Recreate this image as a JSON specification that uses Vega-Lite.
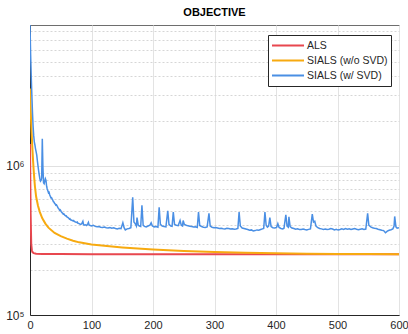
{
  "$schema": "https://vega.github.io/schema/vega-lite/v6.json",
  "autosize": {"type": "none"},
  "padding": {"left": 30, "top": 25, "right": 10, "bottom": 19},
  "width": 369,
  "height": 290,
  "background": "white",
  "title": {"text": "OBJECTIVE", "fontSize": 11, "fontWeight": "bold", "font": "Liberation Sans", "color": "#000000", "anchor": "middle", "offset": 7},
  "config": {
    "view": {"stroke": "#6e6e6e", "strokeWidth": 1},
    "font": "Liberation Sans"
  },
  "datasets": {
    "als": [
      {"x": 0, "y": 1400000}, {"x": 1, "y": 480000}, {"x": 2, "y": 300000}, {"x": 3, "y": 272000}, {"x": 4, "y": 264000}, {"x": 6, "y": 260000}, {"x": 10, "y": 257500}, {"x": 20, "y": 256500}, {"x": 50, "y": 256000}, {"x": 100, "y": 255500}, {"x": 300, "y": 255200}, {"x": 600, "y": 255000}
    ],
    "wo": [
      {"x": 0, "y": 3300000}, {"x": 1, "y": 2450000}, {"x": 2, "y": 1900000}, {"x": 3, "y": 1550000}, {"x": 4, "y": 1280000}, {"x": 5, "y": 1080000}, {"x": 6, "y": 930000}, {"x": 7, "y": 820000}, {"x": 8, "y": 730000}, {"x": 10, "y": 620000}, {"x": 13, "y": 540000}, {"x": 16, "y": 490000}, {"x": 20, "y": 445000}, {"x": 25, "y": 410000}, {"x": 30, "y": 385000}, {"x": 40, "y": 355000}, {"x": 50, "y": 338000}, {"x": 60, "y": 325000}, {"x": 70, "y": 315000}, {"x": 80, "y": 307000}, {"x": 100, "y": 297000}, {"x": 125, "y": 290000}, {"x": 150, "y": 284000}, {"x": 175, "y": 279000}, {"x": 200, "y": 275000}, {"x": 250, "y": 269000}, {"x": 300, "y": 264000}, {"x": 350, "y": 261000}, {"x": 400, "y": 259000}, {"x": 450, "y": 257500}, {"x": 500, "y": 256500}, {"x": 550, "y": 256000}, {"x": 600, "y": 255500}
    ],
    "w": [
      {"x": 0, "y": 8800000}, {"x": 1, "y": 5600000}, {"x": 2, "y": 4000000}, {"x": 3, "y": 3000000}, {"x": 4, "y": 2300000}, {"x": 5, "y": 1850000}, {"x": 6, "y": 1600000}, {"x": 7, "y": 1450000}, {"x": 8, "y": 1380000}, {"x": 9, "y": 1300000}, {"x": 10, "y": 1240000}, {"x": 11, "y": 1180000}, {"x": 12, "y": 1080000}, {"x": 13, "y": 1000000}, {"x": 14, "y": 930000}, {"x": 15, "y": 870000}, {"x": 16, "y": 820000}, {"x": 17, "y": 790000}, {"x": 18, "y": 800000}, {"x": 19, "y": 830000}, {"x": 20, "y": 1520000}, {"x": 21, "y": 980000}, {"x": 22, "y": 770000}, {"x": 23, "y": 760000}, {"x": 24, "y": 790000}, {"x": 25, "y": 820000}, {"x": 26, "y": 800000}, {"x": 27, "y": 730000}, {"x": 28, "y": 700000}, {"x": 29, "y": 680000}, {"x": 30, "y": 660000}, {"x": 31, "y": 665000}, {"x": 32, "y": 640000}, {"x": 33, "y": 625000}, {"x": 34, "y": 610000}, {"x": 35, "y": 612000}, {"x": 36, "y": 600000}, {"x": 37, "y": 590000}, {"x": 38, "y": 575000}, {"x": 39, "y": 572000}, {"x": 40, "y": 560000}, {"x": 41, "y": 556000}, {"x": 42, "y": 545000}, {"x": 43, "y": 548000}, {"x": 44, "y": 540000}, {"x": 45, "y": 528000}, {"x": 46, "y": 520000}, {"x": 47, "y": 515000}, {"x": 48, "y": 505000}, {"x": 49, "y": 508000}, {"x": 50, "y": 500000}, {"x": 51, "y": 492000}, {"x": 52, "y": 485000}, {"x": 53, "y": 482000}, {"x": 54, "y": 475000}, {"x": 55, "y": 476000}, {"x": 56, "y": 470000}, {"x": 57, "y": 465000}, {"x": 58, "y": 462000}, {"x": 59, "y": 463000}, {"x": 60, "y": 455000}, {"x": 62, "y": 450000}, {"x": 63, "y": 446000}, {"x": 64, "y": 440000}, {"x": 65, "y": 442000}, {"x": 66, "y": 435000}, {"x": 68, "y": 432000}, {"x": 70, "y": 428000}, {"x": 71, "y": 430000}, {"x": 72, "y": 424000}, {"x": 74, "y": 420000}, {"x": 76, "y": 418000}, {"x": 77, "y": 420000}, {"x": 78, "y": 412000}, {"x": 80, "y": 410000}, {"x": 82, "y": 405000}, {"x": 84, "y": 408000}, {"x": 86, "y": 425000}, {"x": 87, "y": 405000}, {"x": 88, "y": 400000}, {"x": 90, "y": 403000}, {"x": 92, "y": 398000}, {"x": 94, "y": 410000}, {"x": 95, "y": 418000}, {"x": 96, "y": 402000}, {"x": 98, "y": 398000}, {"x": 100, "y": 396000}, {"x": 103, "y": 400000}, {"x": 106, "y": 393000}, {"x": 109, "y": 390000}, {"x": 112, "y": 392000}, {"x": 115, "y": 388000}, {"x": 118, "y": 386000}, {"x": 121, "y": 389000}, {"x": 124, "y": 385000}, {"x": 127, "y": 383000}, {"x": 130, "y": 386000}, {"x": 133, "y": 382000}, {"x": 136, "y": 384000}, {"x": 139, "y": 380000}, {"x": 142, "y": 378000}, {"x": 145, "y": 382000}, {"x": 148, "y": 379000}, {"x": 151, "y": 415000}, {"x": 153, "y": 385000}, {"x": 155, "y": 372000}, {"x": 158, "y": 378000}, {"x": 161, "y": 380000}, {"x": 164, "y": 385000}, {"x": 167, "y": 615000}, {"x": 169, "y": 420000}, {"x": 171, "y": 410000}, {"x": 173, "y": 395000}, {"x": 174, "y": 450000}, {"x": 176, "y": 400000}, {"x": 178, "y": 395000}, {"x": 180, "y": 392000}, {"x": 182, "y": 545000}, {"x": 184, "y": 400000}, {"x": 186, "y": 393000}, {"x": 189, "y": 390000}, {"x": 192, "y": 395000}, {"x": 195, "y": 400000}, {"x": 197, "y": 415000}, {"x": 199, "y": 395000}, {"x": 202, "y": 390000}, {"x": 205, "y": 392000}, {"x": 208, "y": 388000}, {"x": 210, "y": 527000}, {"x": 212, "y": 405000}, {"x": 215, "y": 395000}, {"x": 218, "y": 392000}, {"x": 221, "y": 390000}, {"x": 224, "y": 500000}, {"x": 226, "y": 405000}, {"x": 229, "y": 395000}, {"x": 231, "y": 393000}, {"x": 233, "y": 490000}, {"x": 235, "y": 405000}, {"x": 238, "y": 400000}, {"x": 241, "y": 398000}, {"x": 244, "y": 430000}, {"x": 246, "y": 400000}, {"x": 248, "y": 395000}, {"x": 249, "y": 430000}, {"x": 251, "y": 405000}, {"x": 254, "y": 400000}, {"x": 257, "y": 396000}, {"x": 260, "y": 394000}, {"x": 263, "y": 392000}, {"x": 266, "y": 389000}, {"x": 269, "y": 390000}, {"x": 272, "y": 386000}, {"x": 274, "y": 490000}, {"x": 276, "y": 398000}, {"x": 279, "y": 392000}, {"x": 282, "y": 388000}, {"x": 285, "y": 386000}, {"x": 288, "y": 390000}, {"x": 291, "y": 480000}, {"x": 293, "y": 395000}, {"x": 296, "y": 388000}, {"x": 299, "y": 385000}, {"x": 302, "y": 386000}, {"x": 305, "y": 383000}, {"x": 308, "y": 380000}, {"x": 311, "y": 381000}, {"x": 314, "y": 379000}, {"x": 317, "y": 378000}, {"x": 320, "y": 382000}, {"x": 323, "y": 380000}, {"x": 326, "y": 377000}, {"x": 329, "y": 378000}, {"x": 332, "y": 376000}, {"x": 335, "y": 377000}, {"x": 338, "y": 380000}, {"x": 340, "y": 490000}, {"x": 342, "y": 395000}, {"x": 345, "y": 383000}, {"x": 348, "y": 380000}, {"x": 351, "y": 377000}, {"x": 354, "y": 374000}, {"x": 357, "y": 370000}, {"x": 360, "y": 372000}, {"x": 363, "y": 366000}, {"x": 366, "y": 368000}, {"x": 369, "y": 372000}, {"x": 372, "y": 370000}, {"x": 375, "y": 374000}, {"x": 378, "y": 378000}, {"x": 380, "y": 380000}, {"x": 382, "y": 490000}, {"x": 384, "y": 400000}, {"x": 386, "y": 388000}, {"x": 388, "y": 395000}, {"x": 390, "y": 450000}, {"x": 392, "y": 392000}, {"x": 395, "y": 385000}, {"x": 398, "y": 383000}, {"x": 401, "y": 387000}, {"x": 403, "y": 410000}, {"x": 405, "y": 386000}, {"x": 408, "y": 380000}, {"x": 411, "y": 378000}, {"x": 413, "y": 382000}, {"x": 416, "y": 470000}, {"x": 418, "y": 395000}, {"x": 420, "y": 388000}, {"x": 421, "y": 455000}, {"x": 423, "y": 392000}, {"x": 426, "y": 383000}, {"x": 429, "y": 380000}, {"x": 432, "y": 376000}, {"x": 435, "y": 378000}, {"x": 438, "y": 375000}, {"x": 441, "y": 374000}, {"x": 444, "y": 377000}, {"x": 447, "y": 374000}, {"x": 450, "y": 372000}, {"x": 453, "y": 375000}, {"x": 456, "y": 378000}, {"x": 459, "y": 475000}, {"x": 461, "y": 420000}, {"x": 463, "y": 425000}, {"x": 465, "y": 395000}, {"x": 468, "y": 385000}, {"x": 471, "y": 380000}, {"x": 474, "y": 378000}, {"x": 477, "y": 375000}, {"x": 480, "y": 377000}, {"x": 483, "y": 374000}, {"x": 486, "y": 376000}, {"x": 489, "y": 380000}, {"x": 492, "y": 377000}, {"x": 495, "y": 372000}, {"x": 498, "y": 375000}, {"x": 501, "y": 371000}, {"x": 504, "y": 374000}, {"x": 507, "y": 378000}, {"x": 510, "y": 375000}, {"x": 513, "y": 380000}, {"x": 516, "y": 376000}, {"x": 519, "y": 378000}, {"x": 522, "y": 374000}, {"x": 525, "y": 377000}, {"x": 528, "y": 380000}, {"x": 531, "y": 376000}, {"x": 534, "y": 373000}, {"x": 537, "y": 376000}, {"x": 540, "y": 378000}, {"x": 543, "y": 374000}, {"x": 546, "y": 377000}, {"x": 549, "y": 480000}, {"x": 551, "y": 400000}, {"x": 554, "y": 390000}, {"x": 557, "y": 385000}, {"x": 560, "y": 382000}, {"x": 563, "y": 380000}, {"x": 566, "y": 376000}, {"x": 569, "y": 373000}, {"x": 572, "y": 370000}, {"x": 575, "y": 368000}, {"x": 578, "y": 356000}, {"x": 581, "y": 365000}, {"x": 584, "y": 370000}, {"x": 587, "y": 373000}, {"x": 590, "y": 378000}, {"x": 592, "y": 395000}, {"x": 593, "y": 458000}, {"x": 595, "y": 390000}, {"x": 597, "y": 382000}, {"x": 600, "y": 385000}
    ]
  },
  "encoding": {
    "x": {
      "field": "x", "type": "quantitative",
      "scale": {"domain": [0, 600], "nice": false, "zero": false},
      "axis": {
        "title": null, "values": [0, 100, 200, 300, 400, 500, 600],
        "labelFontSize": 11, "labelColor": "#262626", "labelPadding": 4, "labelFlush": false,
        "ticks": false, "domainColor": "#262626", "domainWidth": 1,
        "grid": true, "gridColor": "#e3e3e3", "gridWidth": 1
      }
    },
    "y": {
      "field": "y", "type": "quantitative",
      "scale": {"type": "log", "domain": [100000, 8800000], "nice": false},
      "axis": {
        "title": null,
        "values": [100000, 200000, 300000, 400000, 500000, 600000, 700000, 800000, 900000, 1000000, 2000000, 3000000, 4000000, 5000000, 6000000, 7000000, 8000000],
        "labelExpr": "datum.value == 100000 ? '10⁵' : (datum.value == 1000000 ? '10⁶' : '')",
        "labelFontSize": 12, "labelColor": "#262626", "labelPadding": 6, "labelFlush": false,
        "ticks": false, "domainColor": "#262626", "domainWidth": 1,
        "grid": true,
        "gridColor": {"condition": {"test": "datum.value == 1000000", "value": "#e0e0e0"}, "value": "#d6d6d6"},
        "gridDash": {"condition": {"test": "datum.value == 1000000", "value": []}, "value": [2, 2]},
        "gridWidth": 1
      }
    },
    "color": {
      "field": "series", "type": "nominal",
      "scale": {"domain": ["ALS", "SIALS (w/o SVD)", "SIALS (w/ SVD)"], "range": ["#e8474f", "#f7aa10", "#4a8fe4"]},
      "legend": {
        "title": null, "orient": "none", "legendX": 238, "legendY": 10,
        "symbolType": "stroke", "symbolSize": 1024, "symbolStrokeWidth": 2,
        "labelFontSize": 10.5, "labelColor": "#262626", "labelOffset": 2,
        "clipHeight": 15,
        "strokeColor": "#262626", "fillColor": "white", "padding": 3, "rowPadding": 0
      }
    }
  },
  "layer": [
    {"data": {"name": "als"}, "transform": [{"calculate": "'ALS'", "as": "series"}], "mark": {"type": "line", "strokeWidth": 2, "clip": true}},
    {"data": {"name": "wo"}, "transform": [{"calculate": "'SIALS (w/o SVD)'", "as": "series"}], "mark": {"type": "line", "strokeWidth": 2, "clip": true}},
    {"data": {"name": "w"}, "transform": [{"calculate": "'SIALS (w/ SVD)'", "as": "series"}], "mark": {"type": "line", "strokeWidth": 1.5, "clip": true}}
  ]
}
